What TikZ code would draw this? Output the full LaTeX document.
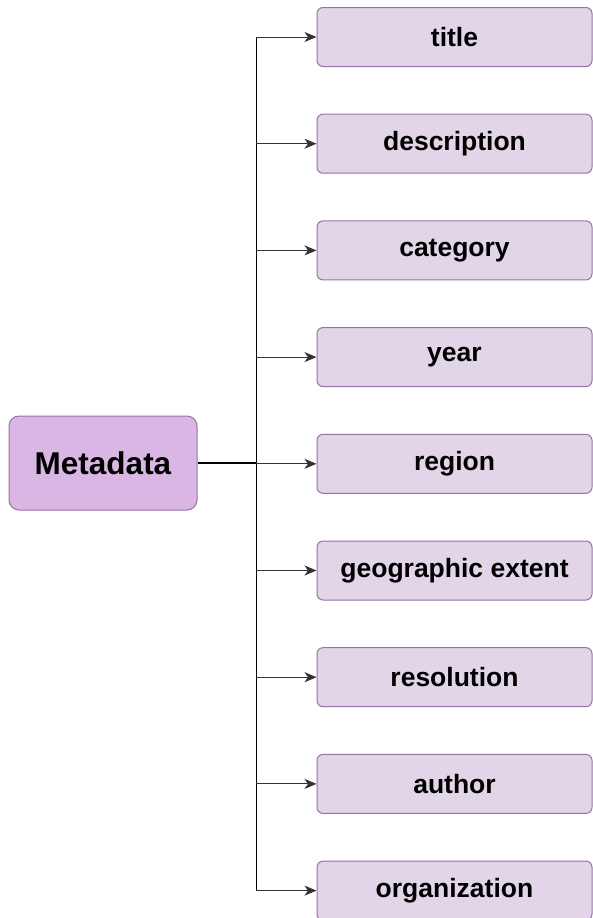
\documentclass[tikz,border=0pt]{standalone}
\usepackage{fontspec}
\setmainfont{Liberation Sans}
\usetikzlibrary{arrows.meta}
\definecolor{rootfill}{HTML}{D9B6E3}
\definecolor{leaffill}{HTML}{E1D5E7}
\definecolor{purpleline}{HTML}{9673A6}
\tikzset{
  rootbox/.style={draw=purpleline, fill=rootfill, line width=1pt, rounded corners=10pt,
    minimum width=188pt, minimum height=94pt, inner sep=0pt,
    font=\fontsize{31.5}{36}\selectfont\bfseries},
  leafbox/.style={draw=purpleline, fill=leaffill, line width=1pt, rounded corners=6pt,
    minimum width=275pt, minimum height=59pt, inner sep=0pt,
    font=\fontsize{26.5}{30}\selectfont\bfseries},
  branch/.style={draw=black!80, line width=0.9pt, -{Stealth[length=12pt,width=10pt,inset=3.5pt]}},
  bus/.style={draw=black, line width=0.8pt},
  trunk/.style={draw=black, line width=1.8pt}
}
\begin{document}
\begin{tikzpicture}[x=1pt,y=-1pt]
  \useasboundingbox (0,0) rectangle (593,918);
  \clip (0,0) rectangle (593,918);
  \fill[white] (0,0) rectangle (593,918);

  % root node
  \node[rootbox] (meta) at (103,463) {Metadata};

  % leaf nodes, one every 106.7pt
  \foreach \name/\label [count=\i from 0] in {
      t/title, d/description, c/category, y/year, r/region,
      g/geographic extent, s/resolution, a/author, o/organization} {
    \node[leafbox] (\name) at (454.5, 37+\i*106.7) {\label};
  }

  % junction on the vertical bus
  \coordinate (jn) at (256,463);
  \draw[trunk] (meta.east) -- (jn);

  % the vertical bus itself
  \draw[bus] (jn |- t.west) -- (jn |- o.west);

  % branches from the bus to every leaf
  \foreach \name in {t,d,c,y,r,g,s,a,o} {
    \draw[branch] (jn |- \name.west) -- (\name.west);
  }
\end{tikzpicture}
\end{document}
